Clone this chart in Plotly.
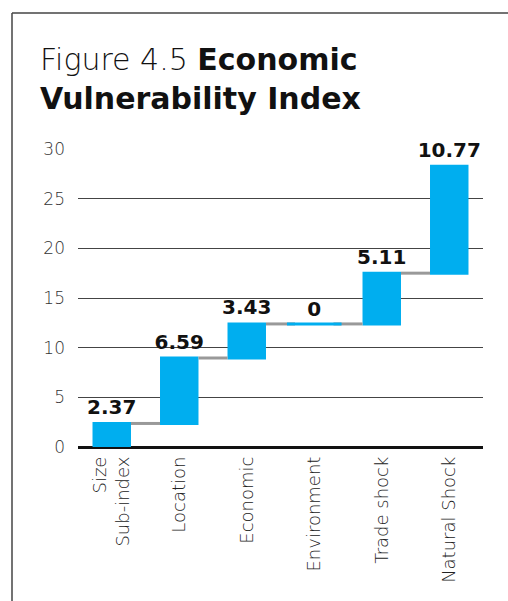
import numpy as np
import plotly.graph_objects as go

categories = ["Size<br>Sub-index", "Location", "Economic", "Environment", "Trade shock", "Natural Shock"]
values = [2.37, 6.59, 3.43, 0, 5.11, 10.77]
labels = ["2.37", "6.59", "3.43", "0", "5.11", "10.77"]
y_ticks = [0, 5, 10, 15, 20, 25, 30]

W, H = 508, 601
ML, MR, MT, MB = 78, 25, 149, 154
pw, ph = W - ML - MR, H - MT - MB

def px_x(p):
    return (p - ML) / pw

def px_y(p):
    return 1 - (p - MT) / ph

BLUE = "#00AEEF"
FONT = "DejaVu Sans, sans-serif"

cum = np.cumsum(values)
zero_x = [c for c, v in zip(categories, values) if v == 0]
zero_y = [float(t) for t, v in zip(cum, values) if v == 0]

fig = go.Figure()
fig.add_trace(go.Waterfall(
    x=categories,
    y=values,
    measure=["relative"] * len(values),
    text=labels,
    textposition="outside",
    constraintext="none",
    textfont=dict(family=FONT, size=20, color="#111111", weight="bold"),
    increasing=dict(marker=dict(color=BLUE)),
    decreasing=dict(marker=dict(color=BLUE)),
    connector=dict(line=dict(color="#999999", width=3)),
    width=0.57,
    cliponaxis=False,
    hoverinfo="skip",
))
fig.add_trace(go.Scatter(
    x=zero_x, y=zero_y, mode="markers",
    marker=dict(symbol="line-ew", size=39, line=dict(color=BLUE, width=3)),
    hoverinfo="skip", cliponaxis=False,
))

fig.update_layout(
    width=W, height=H,
    margin=dict(l=ML, r=MR, t=MT, b=MB),
    paper_bgcolor="white", plot_bgcolor="white",
    showlegend=False,
    font=dict(family=FONT, color="#333333"),
    xaxis=dict(
        tickangle=-90, tickfont=dict(family=FONT, size=18, color="#222222", weight=200),
        showgrid=False, showline=False, ticks="", ticklabelstandoff=5,
    ),
    yaxis=dict(
        range=[0, 30], tickvals=y_ticks,
        tickfont=dict(family=FONT, size=17, color="#333333", weight=200),
        showgrid=True, gridcolor="#444444", gridwidth=1,
        zeroline=True, zerolinecolor="#111111", zerolinewidth=3,
        showline=False, ticks="", ticklabelstandoff=12,
    ),
    annotations=[dict(
        xref="paper", yref="paper", x=px_x(38), y=px_y(40),
        xanchor="left", yanchor="top", align="left", showarrow=False,
        text="<span style='font-weight:200'>Figure 4.5 </span><b>Economic</b><br><b>Vulnerability Index</b>",
        font=dict(family=FONT, size=30, color="#111111"),
    )],
    shapes=[
        dict(type="line", xref="paper", yref="paper",
             x0=px_x(12), x1=px_x(508), y0=px_y(13), y1=px_y(13),
             line=dict(color="#444444", width=1.5)),
        dict(type="line", xref="paper", yref="paper",
             x0=px_x(12), x1=px_x(12), y0=px_y(13), y1=px_y(601),
             line=dict(color="#444444", width=1.5)),
    ],
)

fig.write_html(
    "out.html", config={"displayModeBar": False},
    post_script=(
        "document.body.style.margin='0';document.body.style.overflow='hidden';"
        "document.documentElement.style.overflow='hidden';"
    ),
)
